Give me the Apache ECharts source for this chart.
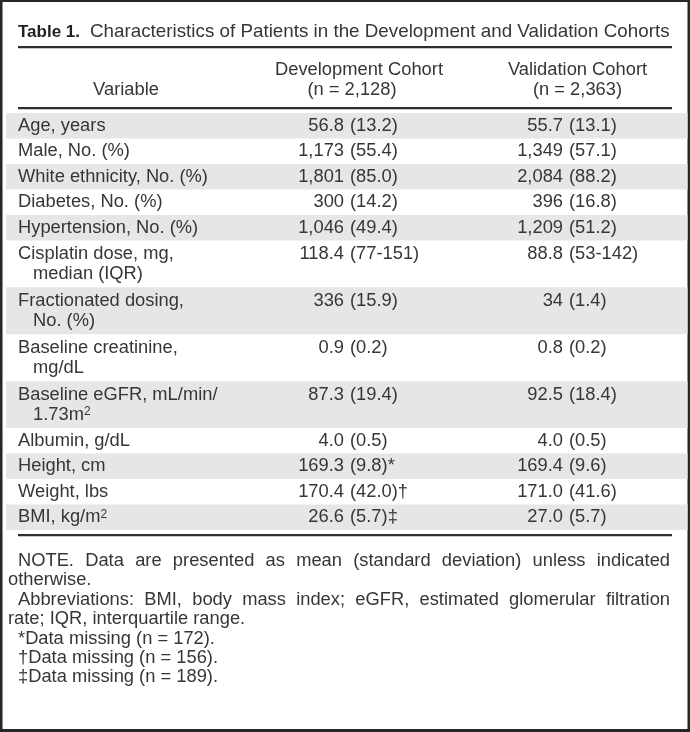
<!DOCTYPE html>
<html><head><meta charset="utf-8">
<script src="https://cdn.jsdelivr.net/npm/echarts@6/dist/echarts.min.js"></script>
<style>html,body{margin:0;padding:0;background:#fff}#c{width:690px;height:732px}</style>
</head><body><div id="c"></div><script>
// ---------- data ----------
const titleBold = "Table 1.";
const titleText = "Characteristics of Patients in the Development and Validation Cohorts";
const headVariable = "Variable";
const headDev = ["Development Cohort", "(n = 2,128)"];
const headVal = ["Validation Cohort", "(n = 2,363)"];
const variables = [
  ["Age, years"],
  ["Male, No. (%)"],
  ["White ethnicity, No. (%)"],
  ["Diabetes, No. (%)"],
  ["Hypertension, No. (%)"],
  ["Cisplatin dose, mg,", "median (IQR)"],
  ["Fractionated dosing,", "No. (%)"],
  ["Baseline creatinine,", "mg/dL"],
  ["Baseline eGFR, mL/min/", "1.73m\u00B2"],
  ["Albumin, g/dL"],
  ["Height, cm"],
  ["Weight, lbs"],
  ["BMI, kg/m\u00B2"]
];
const devMain  = ["56.8", "1,173", "1,801", "300", "1,046", "118.4", "336", "0.9", "87.3", "4.0", "169.3", "170.4", "26.6"];
const devParen = ["(13.2)", "(55.4)", "(85.0)", "(14.2)", "(49.4)", "(77-151)", "(15.9)", "(0.2)", "(19.4)", "(0.5)", "(9.8)*", "(42.0)\u2020", "(5.7)\u2021"];
const valMain  = ["55.7", "1,349", "2,084", "396", "1,209", "88.8", "34", "0.8", "92.5", "4.0", "169.4", "171.0", "27.0"];
const valParen = ["(13.1)", "(57.1)", "(88.2)", "(16.8)", "(51.2)", "(53-142)", "(1.4)", "(0.2)", "(18.4)", "(0.5)", "(9.6)", "(41.6)", "(5.7)"];
const noteLines = [
  ["NOTE. Data are presented as mean (standard deviation) unless indicated", "first", true],
  ["otherwise.", "cont", false],
  ["Abbreviations: BMI, body mass index; eGFR, estimated glomerular filtration", "first", true],
  ["rate; IQR, interquartile range.", "cont", false],
  ["*Data missing (n = 172).", "first", false],
  ["\u2020Data missing (n = 156).", "first", false],
  ["\u2021Data missing (n = 189).", "first", false]
];

// ---------- style / layout ----------
const FAM = "'Liberation Sans', Arial, Helvetica, sans-serif";
const TXT = '#363636';
const RULE = '#2e2e2e';
const BAND = '#e6e6e6';
const FRAME = '#262626';

const mctx = document.createElement('canvas').getContext('2d');
function measure(text, size, fam, weight) {
  mctx.font = (weight || 'normal') + ' ' + size + 'px ' + fam;
  return mctx.measureText(text).width;
}
function fit(text, target, fam, weight) {
  return +(100 * target / measure(text, 100, fam, weight)).toFixed(2);
}
const bodySize = Math.min(18.5, fit("White ethnicity, No. (%)", 190, FAM));
const titleSize = fit(titleText, 580, FAM);
const boldSize = 17;

const LABEL_X = 18, LABEL_X2 = 33;
const DEV_R = 344, DEV_L = 350, VAL_R = 563, VAL_L = 569;
const LINE_H = 20;
const DOUBLE = 1.84;

// row extents (in row units) derived from the number of label lines
const rowStart = [], rowEnd = [];
let acc = 0;
variables.forEach(v => { rowStart.push(acc); acc += 1 + (v.length - 1) * (DOUBLE - 1); rowEnd.push(acc); });
const rowData = variables.map((v, i) => [0, rowStart[i], rowEnd[i], i]);

function txt(text, x, y, align, size, fam, weight, color) {
  const sz = size || bodySize;
  const style = {
    text: text, fill: color || TXT,
    font: (weight || 'normal') + ' ' + sz + 'px ' + (fam || FAM),
    align: align, textAlign: align, verticalAlign: 'middle', textVerticalAlign: 'middle'
  };
  if (text.indexOf('\u00B2') >= 0) {
    style.text = text.split('\u00B2').map(s => s ? '{n|' + s + '}' : '').join('{sup|2}');
    style.rich = {
      n: {fontSize: sz, fontFamily: FAM, fill: style.fill, color: style.fill, verticalAlign: 'bottom'},
      sup: {fontSize: Math.round(sz * 0.64), fontFamily: FAM, fill: style.fill, color: style.fill, verticalAlign: 'top'}
    };
  }
  return {type: 'text', x: x, y: y, silent: true, style: style};
}

// ---------- graphics (frame, title, rules, header, notes) ----------
const g = [];
g.push({type: 'rect', shape: {x: 0, y: 0, width: 690, height: 2}, style: {fill: FRAME}});
g.push({type: 'rect', shape: {x: 0, y: 0, width: 2.5, height: 732}, style: {fill: FRAME}});
g.push({type: 'rect', shape: {x: 687.5, y: 0, width: 2.5, height: 732}, style: {fill: FRAME}});
g.push({type: 'rect', shape: {x: 0, y: 729, width: 690, height: 3}, style: {fill: FRAME}});
g.push(txt(titleBold, 18, 32, 'left', boldSize, FAM, 'bold', '#222'));
g.push(txt(titleText, 90, 32, 'left', titleSize));
g.push({type: 'rect', shape: {x: 18, y: 46, width: 654, height: 2.2}, style: {fill: RULE}});
g.push(txt(headDev[0], 359, 70, 'center'));
g.push(txt(headDev[1], 352, 90, 'center'));
g.push(txt(headVal[0], 577.5, 70, 'center'));
g.push(txt(headVal[1], 577.5, 90, 'center'));
g.push(txt(headVariable, 126, 90, 'center'));
g.push({type: 'rect', shape: {x: 18, y: 107, width: 654, height: 2.2}, style: {fill: RULE}});
g.push({type: 'rect', shape: {x: 18, y: 534, width: 654, height: 2.2}, style: {fill: RULE}});

// notes
const NOTE_Y0 = 561, NOTE_LH = 19.4, NOTE_R = 670;
noteLines.forEach((ln, k) => {
  const y = NOTE_Y0 + k * NOTE_LH;
  const x0 = ln[1] === 'first' ? 18 : 8;
  if (ln[2]) {
    const words = ln[0].split(' ');
    const ws = words.map(w => measure(w, bodySize, FAM));
    const tot = ws.reduce((a, b) => a + b, 0);
    const gap = (NOTE_R - x0 - tot) / (words.length - 1);
    let x = x0;
    words.forEach((w, j) => { g.push(txt(w, x, y, 'left')); x += ws[j] + gap; });
  } else {
    g.push(txt(ln[0], x0, y, 'left'));
  }
});

// ---------- chart ----------
const chart = echarts.init(document.getElementById('c'), null, {renderer: 'canvas'});
chart.setOption({
  animation: false,
  backgroundColor: '#fff',
  grid: {left: 6, right: 2.5, top: 113, height: 417, containLabel: false},
  xAxis: {type: 'value', min: 0, max: 1, show: false},
  yAxis: {type: 'value', inverse: true, min: 0, max: acc, show: false},
  series: [{
    type: 'custom',
    silent: true,
    encode: {x: 0, y: [1, 2]},
    data: rowData,
    renderItem: function (params, api) {
      const i = api.value(3);
      const top = api.coord([0, api.value(1)])[1];
      const bot = api.coord([0, api.value(2)])[1];
      const cs = params.coordSys;
      const lines = variables[i];
      const children = [];
      if (i % 2 === 0) {
        children.push({type: 'rect', shape: {x: cs.x, y: top, width: cs.width, height: bot - top}, style: {fill: BAND}});
      }
      const mid = (top + bot) / 2;
      const y1 = mid - (lines.length - 1) * LINE_H / 2;
      lines.forEach((t, k) => children.push(txt(t, k === 0 ? LABEL_X : LABEL_X2, y1 + k * LINE_H, 'left')));
      children.push(txt(devMain[i], DEV_R, y1, 'right'));
      children.push(txt(devParen[i], DEV_L, y1, 'left'));
      children.push(txt(valMain[i], VAL_R, y1, 'right'));
      children.push(txt(valParen[i], VAL_L, y1, 'left'));
      return {type: 'group', children: children};
    }
  }],
  graphic: {elements: g}
});
</script></body></html>
